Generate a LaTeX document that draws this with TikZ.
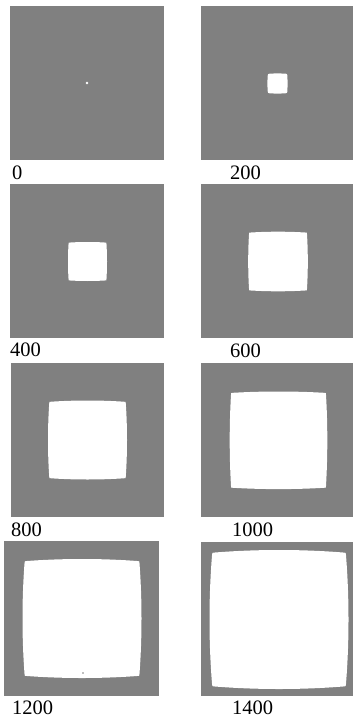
\documentclass[tikz,border=0pt]{standalone}
\usepackage{fontspec}
\setmainfont{Liberation Serif}
\usepackage{tikz}
\usetikzlibrary{positioning}
\definecolor{panelgray}{RGB}{128,128,128}

% white region: centre x, centre y, half side, bulge, corner radius
\newcommand{\blob}[5]{%
  \fill[white] ({#1-#3+#5},{#2-#3})
    .. controls ({#1-#3/3},{#2-#3-4*#4/3}) and ({#1+#3/3},{#2-#3-4*#4/3}) .. ({#1+#3-#5},{#2-#3})
    .. controls ({#1+#3},{#2-#3}) .. ({#1+#3},{#2-#3+#5})
    .. controls ({#1+#3+4*#4/3},{#2-#3/3}) and ({#1+#3+4*#4/3},{#2+#3/3}) .. ({#1+#3},{#2+#3-#5})
    .. controls ({#1+#3},{#2+#3}) .. ({#1+#3-#5},{#2+#3})
    .. controls ({#1+#3/3},{#2+#3+4*#4/3}) and ({#1-#3/3},{#2+#3+4*#4/3}) .. ({#1-#3+#5},{#2+#3})
    .. controls ({#1-#3},{#2+#3}) .. ({#1-#3},{#2+#3-#5})
    .. controls ({#1-#3-4*#4/3},{#2+#3/3}) and ({#1-#3-4*#4/3},{#2-#3/3}) .. ({#1-#3},{#2-#3+#5})
    .. controls ({#1-#3},{#2-#3}) .. ({#1-#3+#5},{#2-#3}) -- cycle;}

\begin{document}
\begin{tikzpicture}[x=1pt,y=-1pt,
  panel/.style={fill=panelgray},
  steplabel/.style={anchor=west, inner sep=0pt, font=\fontsize{20.5}{24}\selectfont}]

\useasboundingbox (0,0) rectangle (353,719);

%---------------------------------------
% Row 1
%---------------------------------------
\fill[panel] (10,6) rectangle (164,160);
\fill[white] (87,83) circle (1.3);
\node[steplabel] (lab0) at (12,173) {0};

\fill[panel] (201,6) rectangle (353,160);
\blob{277.5}{83.5}{9.8}{0.3}{3.5}
\node[steplabel] (lab200) at (230,173) {200};

%---------------------------------------
% Row 2
%---------------------------------------
\fill[panel] (10,184) rectangle (164,338);
\blob{87.5}{261.5}{19}{0.5}{2}
\node[steplabel] (lab400) at (10,350) {400};

\fill[panel] (201,184) rectangle (353,338);
\blob{278}{261.5}{29}{0.8}{2}
\node[steplabel] (lab600) at (230,351) {600};

%---------------------------------------
% Row 3
%---------------------------------------
\fill[panel] (11,363) rectangle (164,517);
\blob{87.5}{440}{38.3}{1.2}{2}
\node[steplabel] (lab800) at (11,529.5) {800};

\fill[panel] (201,363) rectangle (353,517);
\blob{278.5}{440.3}{47.5}{1.3}{2}
\node[steplabel] (lab1000) at (232,529.5) {1000};

%---------------------------------------
% Row 4
%---------------------------------------
\fill[panel] (4,541) rectangle (159,696);
\blob{82}{618.5}{57.5}{2}{2.5}
\fill[panelgray] (83,673) circle (0.8);
\node[steplabel] (lab1200) at (12,708) {1200};

\fill[panel] (201,542) rectangle (353,696);
\blob{279}{619.5}{67}{2.5}{3}
\node[steplabel] (lab1400) at (232,708) {1400};

\end{tikzpicture}
\end{document}
